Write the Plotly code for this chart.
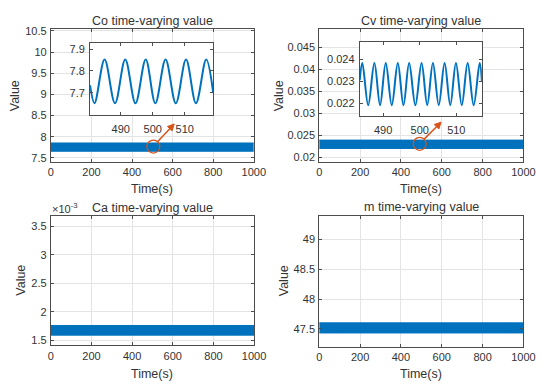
import plotly.graph_objects as go

# ---------------- data ----------------
time_ticks = [0, 200, 400, 600, 800, 1000]
time_ticktext = ["0", "200", "400", "600", "800", "1000"]
band_time = [0, 1000]

# visible extent of the densely oscillating signals (whole run)
co_band_low = [7.655, 7.655]
co_band_high = [7.850, 7.850]
cv_band_low = [0.02200, 0.02200]
cv_band_high = [0.02390, 0.02390]
ca_band_low = [1.59e-3, 1.59e-3]
ca_band_high = [1.76e-3, 1.76e-3]
m_band_low = [47.43, 47.43]
m_band_high = [47.60, 47.60]

# zoomed view of Co (extrema)
co_zoom_t = [480.4, 481.8, 484.95, 488.2, 491.4, 494.6, 497.8, 500.8,
             504.0, 507.2, 510.4, 513.5, 516.7, 518.9]
co_zoom_v = [7.735, 7.652, 7.852, 7.652, 7.852, 7.652, 7.852, 7.652,
             7.852, 7.652, 7.852, 7.652, 7.852, 7.698]

# zoomed view of Cv (extrema)
cv_zoom_t = [483.6, 484.3, 485.9, 487.6, 489.15, 490.7, 492.35, 494.0,
             495.55, 497.1, 498.8, 500.5, 502.05, 503.6, 505.2, 506.8,
             508.35, 509.9, 511.5, 513.1, 514.75, 516.4, 517.0]
cv_zoom_v = [0.02305, 0.02383, 0.02192, 0.02383, 0.02192, 0.02383, 0.02192, 0.02383,
             0.02192, 0.02383, 0.02192, 0.02383, 0.02192, 0.02383, 0.02192, 0.02383,
             0.02192, 0.02383, 0.02192, 0.02383, 0.02192, 0.02383, 0.02300]

co_yticks = [7.5, 8, 8.5, 9, 9.5, 10, 10.5]
co_ytext = ["7.5", "8", "8.5", "9", "9.5", "10", "10.5"]
cv_yticks = [0.02, 0.025, 0.03, 0.035, 0.04, 0.045]
cv_ytext = ["0.02", "0.025", "0.03", "0.035", "0.04", "0.045"]
ca_yticks = [1.5e-3, 2e-3, 2.5e-3, 3e-3, 3.5e-3]
ca_ytext = ["1.5", "2", "2.5", "3", "3.5"]
m_yticks = [47.5, 48, 48.5, 49]
m_ytext = ["47.5", "48", "48.5", "49"]

co_zoom_xticks = [490, 500, 510]
co_zoom_yticks = [7.7, 7.8, 7.9]
co_zoom_ytext = ["7.7", "7.8", "7.9"]
cv_zoom_xticks = [490, 500, 510]
cv_zoom_yticks = [0.022, 0.023, 0.024]
cv_zoom_ytext = ["0.022", "0.023", "0.024"]

titles = ["Co time-varying value", "Cv time-varying value",
          "Ca time-varying value", "m time-varying value"]

# ---------------- styling ----------------
PAGE_W, PAGE_H = 550, 390
OFF = 8  # default page body margin
W, H = PAGE_W - OFF, PAGE_H - OFF
BLUE = "#0072BD"
ORANGE = "#D95319"
TXT = "#333333"
AXC = "#4d4d4d"
GRID = "#e4e4e4"
FONT = "Liberation Sans, Arial, sans-serif"


def px_x(p):
    return (p - OFF) / W


def px_y(p):
    return 1 - (p - OFF) / H


fig = go.Figure()

# main bands
bands = [(co_band_low, co_band_high, "x", "y"),
         (cv_band_low, cv_band_high, "x2", "y2"),
         (ca_band_low, ca_band_high, "x3", "y3"),
         (m_band_low, m_band_high, "x4", "y4")]
for low, high, xa, ya in bands:
    fig.add_trace(go.Scatter(x=band_time, y=low, mode="lines",
                             line=dict(color=BLUE, width=1),
                             xaxis=xa, yaxis=ya, showlegend=False, hoverinfo="skip"))
    fig.add_trace(go.Scatter(x=band_time, y=high, mode="lines",
                             line=dict(color=BLUE, width=1),
                             fill="tonexty", fillcolor=BLUE,
                             xaxis=xa, yaxis=ya, showlegend=False, hoverinfo="skip"))

# insets
fig.add_trace(go.Scatter(x=co_zoom_t, y=co_zoom_v, mode="lines",
                         line=dict(color=BLUE, width=2, shape="spline", smoothing=1.0),
                         xaxis="x5", yaxis="y5", showlegend=False))
fig.add_trace(go.Scatter(x=cv_zoom_t, y=cv_zoom_v, mode="lines",
                         line=dict(color=BLUE, width=2, shape="spline", smoothing=1.0),
                         xaxis="x6", yaxis="y6", showlegend=False))

tickfont = dict(family=FONT, size=11, color=TXT)


def main_axes(xdom, ydom, yrange, ytv, ytt, anchor_x, anchor_y):
    xa = dict(domain=[px_x(xdom[0]), px_x(xdom[1])], range=[0, 1000],
              tickvals=time_ticks, ticktext=time_ticktext,
              showgrid=True, gridcolor=GRID, gridwidth=1,
              showline=True, linecolor=AXC, linewidth=1, mirror="ticks",
              ticks="inside", ticklen=3, tickcolor=AXC,
              zeroline=False, tickfont=tickfont, anchor=anchor_y,
              ticklabelstandoff=0)
    ya = dict(domain=[px_y(ydom[1]), px_y(ydom[0])], range=yrange,
              tickvals=ytv, ticktext=ytt,
              showgrid=True, gridcolor=GRID, gridwidth=1,
              showline=True, linecolor=AXC, linewidth=1, mirror="ticks",
              ticks="inside", ticklen=3, tickcolor=AXC,
              zeroline=False, tickfont=tickfont, anchor=anchor_x,
              ticklabelstandoff=1)
    return xa, ya


xa1, ya1 = main_axes((49, 257.7), (25, 160), [7.41, 10.55], co_yticks, co_ytext, "x", "y")
xa2, ya2 = main_axes((325, 535), (25, 160), [0.019, 0.0493], cv_yticks, cv_ytext, "x2", "y2")
xa3, ya3 = main_axes((49, 258), (215, 346.7), [1.41e-3, 3.69e-3], ca_yticks, ca_ytext, "x3", "y3")
xa4, ya4 = main_axes((325, 535), (215, 348), [47.20, 49.40], m_yticks, m_ytext, "x4", "y4")


def inset_axes(xdom, ydom, xrange, yrange, xtv, ytv, ytt, anchor_x, anchor_y):
    xa = dict(domain=[px_x(xdom[0]), px_x(xdom[1])], range=xrange,
              tickvals=xtv, ticktext=[str(v) for v in xtv],
              showgrid=False, showline=True, linecolor=AXC, linewidth=1,
              mirror="ticks", ticks="inside", ticklen=3, tickcolor=AXC,
              zeroline=False, tickfont=tickfont, anchor=anchor_y,
              ticklabelstandoff=4)
    ya = dict(domain=[px_y(ydom[1]), px_y(ydom[0])], range=yrange,
              tickvals=ytv, ticktext=ytt,
              showgrid=False, showline=True, linecolor=AXC, linewidth=1,
              mirror="ticks", ticks="inside", ticklen=3, tickcolor=AXC,
              zeroline=False, tickfont=tickfont, anchor=anchor_x,
              ticklabelstandoff=2)
    return xa, ya


xa5, ya5 = inset_axes((89.3, 216), (39, 112.7), [480.4, 518.9], [7.598, 7.93],
                      co_zoom_xticks, co_zoom_yticks, co_zoom_ytext, "x5", "y5")
xa6, ya6 = inset_axes((366.7, 492.3), (38.3, 113.3), [483.6, 517.0], [0.02145, 0.02479],
                      cv_zoom_xticks, cv_zoom_yticks, cv_zoom_ytext, "x6", "y6")

annotations = []
title_pos = [(153.3, 17.3), (430, 17.3), (153.5, 206.7), (430, 206.5)]
for t, (x, y) in zip(titles, title_pos):
    annotations.append(dict(text=t, x=px_x(x), y=px_y(y), xref="paper", yref="paper",
                            showarrow=False, xanchor="center", yanchor="middle",
                            font=dict(family=FONT, size=12.5, color=TXT)))
for (x, y) in [(153.3, 188.3), (430, 188.3), (153.5, 376), (430, 376)]:
    annotations.append(dict(text="Time(s)", x=px_x(x), y=px_y(y), xref="paper", yref="paper",
                            showarrow=False, xanchor="center", yanchor="middle",
                            font=dict(family=FONT, size=12.5, color=TXT)))
for (x, y) in [(11.7, 93), (283.3, 93), (18.3, 281), (288.3, 281)]:
    annotations.append(dict(text="Value", x=px_x(x), y=px_y(y), xref="paper", yref="paper",
                            showarrow=False, xanchor="center", yanchor="middle", textangle=-90,
                            font=dict(family=FONT, size=12.5, color=TXT)))
annotations.append(dict(text="×10<sup>-3</sup>", x=px_x(48), y=px_y(207.5), xref="paper",
                        yref="paper", showarrow=False, xanchor="left", yanchor="middle",
                        font=dict(family=FONT, size=11, color=TXT)))


def arrow_shapes(xref, yref, tip_x, tip_y, dx, dy, head_len=6.5, head_half=3.2):
    """Arrow drawn in pixel units, anchored at its tip; (dx, dy) = tail offset (y up)."""
    length = (dx * dx + dy * dy) ** 0.5
    ux, uy = -dx / length, -dy / length          # unit vector tail -> tip
    nx, ny = -uy, ux
    bx, by = -head_len * ux, -head_len * uy       # head base centre
    shaft = dict(type="path", xref=xref, yref=yref, xsizemode="pixel", ysizemode="pixel",
                 xanchor=tip_x, yanchor=tip_y,
                 path=f"M{dx:.2f},{dy:.2f} L{bx:.2f},{by:.2f}",
                 line=dict(color=ORANGE, width=1.5))
    head = dict(type="path", xref=xref, yref=yref, xsizemode="pixel", ysizemode="pixel",
                xanchor=tip_x, yanchor=tip_y,
                path=(f"M0,0 L{bx + head_half * nx:.2f},{by + head_half * ny:.2f} "
                      f"L{bx - head_half * nx:.2f},{by - head_half * ny:.2f} Z"),
                fillcolor=ORANGE, line=dict(color=ORANGE, width=1))
    return [shaft, head]


shapes = [
    dict(type="circle", xref="x", yref="y", xsizemode="pixel", ysizemode="pixel",
         xanchor=505, yanchor=7.765, x0=-6.5, x1=6.5, y0=-6.5, y1=6.5,
         line=dict(color=ORANGE, width=1.2)),
    dict(type="circle", xref="x2", yref="y2", xsizemode="pixel", ysizemode="pixel",
         xanchor=492, yanchor=0.02305, x0=-6.5, x1=6.5, y0=-6.5, y1=6.5,
         line=dict(color=ORANGE, width=1.2)),
]
shapes += arrow_shapes("x", "y", 608, 8.30, -16.5, -17.5)
shapes += arrow_shapes("x2", "y2", 597, 0.0280, -17, -17)

fig.update_layout(
    width=W, height=H,
    margin=dict(l=0, r=0, t=0, b=0),
    paper_bgcolor="white", plot_bgcolor="white",
    showlegend=False,
    font=dict(family=FONT, size=11, color=TXT),
    xaxis=xa1, yaxis=ya1, xaxis2=xa2, yaxis2=ya2,
    xaxis3=xa3, yaxis3=ya3, xaxis4=xa4, yaxis4=ya4,
    xaxis5=xa5, yaxis5=ya5, xaxis6=xa6, yaxis6=ya6,
    annotations=annotations, shapes=shapes,
)

fig.write_html("out.html")
